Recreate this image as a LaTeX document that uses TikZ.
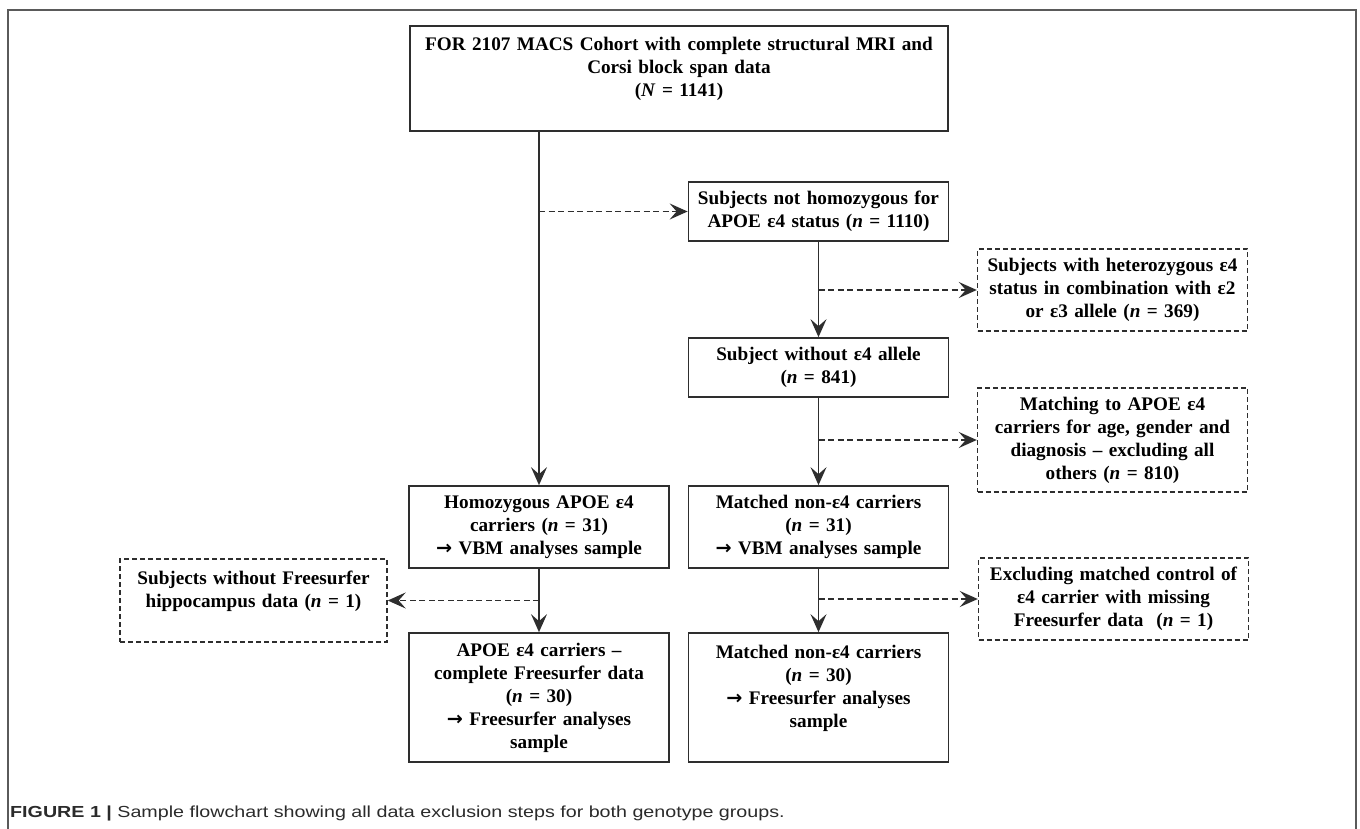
\documentclass[tikz,border=0pt]{standalone}
\usepackage{fontspec}
\setmainfont{Liberation Serif}
\setsansfont{Liberation Sans}
\newfontfamily\arrowglyph{DejaVu Sans}
\newfontfamily\capfont[FakeStretch=1.23]{Liberation Sans}
\usetikzlibrary{arrows.meta}
\definecolor{edge}{HTML}{2E2E2E}
\definecolor{framegray}{HTML}{5A5A5A}
\definecolor{captext}{HTML}{2B2B2B}
\newcommand{\goesto}{{\arrowglyph\bfseries →}}

\begin{document}
\begin{tikzpicture}[x=1pt,y=-1pt,>={Stealth[length=18pt,width=16pt,inset=7pt]},
 stagebox/.style={draw=edge,line width=1.7pt,inner sep=0pt,align=center,text=black,
   font=\bfseries\fontsize{19.2}{23}\selectfont},
 dropbox/.style={stagebox,line width=1.4pt,dash pattern=on 5pt off 3pt},
 boxsize/.style 2 args={minimum width=#1,text width=#1,minimum height=#2},
 arr/.style={->,line width=1.6pt,color=edge},
 droparr/.style={arr,dash pattern=on 6pt off 3.5pt}]
 \useasboundingbox (0,0) rectangle (1360,829);
 \draw[framegray,line width=1.4pt] (8,829) -- (8,10) -- (1356,10) -- (1356,829);
 % main column and exclusions
 \node[stagebox,boxsize={538pt}{105pt}] (cohort) at (679,78.5) {FOR 2107 MACS Cohort with complete structural MRI and\\Corsi block span data\\(\textit{N} = 1141)\\ \mbox{}};
 \node[stagebox,boxsize={260pt}{59pt}] (notHom) at (818.5,211.5) {Subjects not homozygous for\\APOE ε4 status (\textit{n} = 1110)};
 \node[dropbox,boxsize={270pt}{82pt}] (hetero) at (1112.5,290) {Subjects with heterozygous ε4\\status in combination with ε2\\or ε3 allele (\textit{n} = 369)};
 \node[stagebox,boxsize={260pt}{59pt}] (without) at (818.5,367.5) {Subject without ε4 allele\\(\textit{n} = 841)};
 \node[dropbox,boxsize={270pt}{104pt}] (matching) at (1112.5,440) {Matching to APOE ε4\\carriers for age, gender and\\diagnosis – excluding all\\others (\textit{n} = 810)};
 \node[stagebox,boxsize={260pt}{82pt}] (homo) at (539,527) {Homozygous APOE ε4\\carriers (\textit{n} = 31)\\\goesto{} VBM analyses sample};
 \node[stagebox,boxsize={260pt}{82pt}] (matched31) at (818.5,527) {Matched non-ε4 carriers\\(\textit{n} = 31)\\\goesto{} VBM analyses sample};
 \node[dropbox,boxsize={267pt}{83pt}] (noFs) at (253.5,600.5) {Subjects without Freesurfer\\hippocampus data (\textit{n} = 1)\\ \mbox{}};
 \node[dropbox,boxsize={270pt}{82pt}] (exclCtrl) at (1113.5,599) {Excluding matched control of\\ε4 carrier with missing\\Freesurfer data\ \ (\textit{n} = 1)};
 \node[stagebox,boxsize={260pt}{129pt}] (apoe30) at (539,697.5) {APOE ε4 carriers –\\complete Freesurfer data\\(\textit{n} = 30)\\\goesto{} Freesurfer analyses\\sample};
 \node[stagebox,boxsize={260pt}{129pt}] (matched30) at (818.5,697.5) {Matched non-ε4 carriers\\(\textit{n} = 30)\\\goesto{} Freesurfer analyses\\sample\\ \mbox{}};
 \node[anchor=base west,inner sep=0pt,text=captext,font=\capfont\fontsize{16}{19}\selectfont] (caption) at (10,817) {\textbf{FIGURE 1 |} Sample flowchart showing all data exclusion steps for both genotype groups.};
 % connectors
 \draw[arr] (cohort.south -| homo.north) -- (homo.north);
 \draw[droparr] (notHom.west -| homo.north) -- (notHom.west);
 \foreach \a/\b in {notHom/without,without/matched31,matched31/matched30,homo/apoe30} \draw[arr] (\a.south) -- (\b.north);
 \draw[droparr] (hetero.west -| notHom.south) -- (hetero.west);
 \draw[droparr] (matching.west -| without.south) -- (matching.west);
 \draw[droparr] (noFs.east -| homo.south) -- (noFs.east);
 \draw[droparr] (exclCtrl.west -| matched31.south) -- (exclCtrl.west);
\end{tikzpicture}
\end{document}
